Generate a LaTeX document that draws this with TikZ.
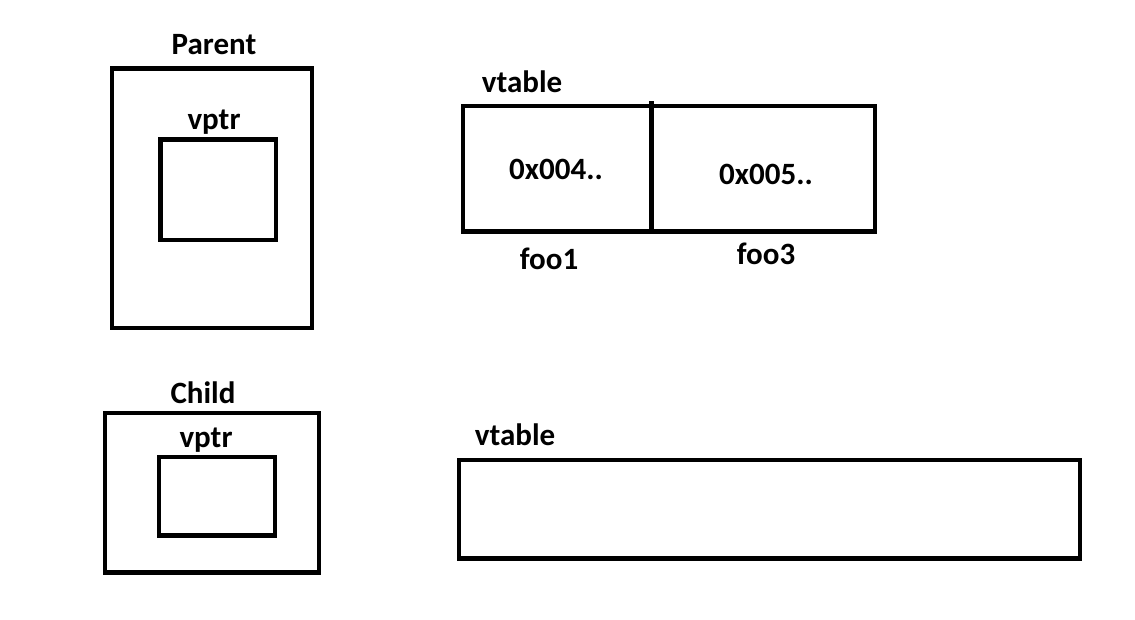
\documentclass[tikz,border=0pt]{standalone}
\usepackage{fontspec}
\setmainfont{Carlito}
\begin{document}
\begin{tikzpicture}[x=1pt, y=-1pt, line join=miter, line width=4.5pt, font=\fontsize{31}{36}\selectfont\bfseries]

				% Khung hình
				\useasboundingbox (0,0) rectangle (1135,620);

				% Định nghĩa các điểm
				\coordinate (P1) at (112,68.5);   % Parent
				\coordinate (P2) at (312,328);
				\coordinate (Pv1) at (160.5,139.5); % vptr của Parent
				\coordinate (Pv2) at (276,240);
				\coordinate (T1) at (463,106);    % vtable trên
				\coordinate (T2) at (875,231.5);
				\coordinate (Tm) at (651.5,101.5); % vạch chia
				\coordinate (C1) at (105,413);    % Child
				\coordinate (C2) at (319,572.5);
				\coordinate (Cv1) at (159,457);   % vptr của Child
				\coordinate (Cv2) at (275,535.5);
				\coordinate (B1) at (459,460);    % vtable dưới
				\coordinate (B2) at (1080,558.5);

				% Vẽ các hộp
				\draw (P1) rectangle (P2);
				\draw (Pv1) rectangle (Pv2);
				\draw (T1) rectangle (T2);
				\draw (Tm) -- (Tm |- T2);
				\draw (C1) rectangle (C2);
				\draw (Cv1) rectangle (Cv2);
				\draw (B1) rectangle (B2);

				% Nhãn
				\node[anchor=base] (parent) at (214,55) {Parent};
				\node[anchor=base] (pvptr) at (214,130) {vptr};
				\node[anchor=base] (vtab1) at (522,93) {vtable};
				\node[anchor=base] (addr1) at (556,180) {0x004..};
				\node[anchor=base] (addr2) at (766,185) {0x005..};
				\node[anchor=base] (foo1) at (549,270) {foo1};
				\node[anchor=base] (foo3) at (766,265) {foo3};
				\node[anchor=base] (child) at (203,403) {Child};
				\node[anchor=base] (cvptr) at (206,447) {vptr};
				\node[anchor=base] (vtab2) at (515,445) {vtable};

			\end{tikzpicture}
\end{document}
